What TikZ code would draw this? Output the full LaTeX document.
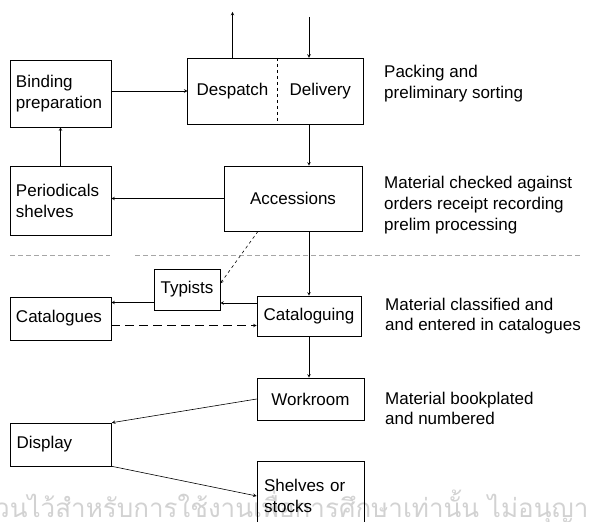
\documentclass[tikz,border=0pt]{standalone}
\usepackage{fontspec}
\setmainfont{Liberation Sans}
\newfontfamily\thaifont[Script=Thai]{Loma}
\begin{document}
\begin{tikzpicture}[x=1pt, y=1pt, font=\fontsize{17}{21}\selectfont]
    % Style definition for the process boxes
    \tikzset{box/.style={rectangle, draw=black, semithick, inner xsep=6pt, inner ysep=0pt},
             leftbox/.style={box, text width=89pt, align=left},
             half/.style={rectangle, inner sep=0pt},
             note/.style={anchor=west, align=left, inner sep=0pt}}
    \tikzstyle{arrow} = [semithick,->,>=stealth]
    \tikzstyle{dasharrow} = [semithick,->,>=stealth,dash pattern=on 9pt off 5pt]

    \useasboundingbox (0,0) rectangle (589,-522);
    \clip (0,0) rectangle (589,-522);

    % Watermark along the bottom edge
    \node (mark) [anchor=base west, inner sep=0pt, text=gray!35,
        font=\thaifont\fontsize{26}{26}\selectfont] at (-5,-517)
        {วนไว้สำหรับการใช้งานเพื่อการศึกษาเท่านั้น ไม่อนุญาต};

    % Left column
    \node (bind) [leftbox, minimum height=67pt] at (60.5,-93.5) {Binding\\preparation};
    \node (per) [leftbox, minimum height=69pt, below of=bind, node distance=107pt] {Periodicals\\shelves};
    \node (cats) [leftbox, minimum height=43pt, below of=per, node distance=118pt] {Catalogues};
    \node (disp) [leftbox, minimum height=43pt, below of=cats, node distance=126pt, xshift=0.5pt] {Display};

    % Main column
    \node (desp) [half, minimum width=89.5pt, minimum height=66pt, right of=bind, node distance=172pt, yshift=2.5pt] {Despatch};
    \node (deliv) [half, minimum width=86pt, minimum height=66pt, right of=desp, node distance=87.75pt] {Delivery};
    \draw [semithick] (desp.north west) rectangle (deliv.south east);
    \draw [semithick, dashed] (desp.north east) -- (desp.south east);
    \node (acc) [box, minimum width=138pt, minimum height=65pt, right of=per, node distance=232.5pt, yshift=2pt] {Accessions};
    \node (typ) [box, minimum width=66pt, minimum height=41pt, right of=cats, node distance=126.5pt, yshift=29pt] {Typists};
    \node (catg) [box, minimum width=104pt, minimum height=40pt, right of=cats, node distance=248.5pt, yshift=2.5pt] {Cataloguing};
    \node (work) [box, minimum width=107pt, minimum height=42pt, right of=disp, node distance=249.5pt, yshift=45.5pt] {Workroom};
    \node (shelves) [box, text width=93pt, inner xsep=7pt, align=left, minimum height=70pt, below of=work, node distance=97pt] {Shelves or\\stocks};

    % Notes on the right
    \node (packnote) [note] at (384,-83.5) {Packing and\\preliminary sorting};
    \node (accnote) [note] at (384,-205) {Material checked against\\orders receipt recording\\prelim processing};
    \node (catnote) [note, font=\fontsize{17}{20}\selectfont] at (385,-316) {Material classified and\\and entered in catalogues};
    \node (worknote) [note, font=\fontsize{17}{20}\selectfont] at (385,-408) {Material bookplated\\and numbered};

    % Broken separator line
    \draw [gray!70, thin, dash pattern=on 5pt off 3pt] (10,-255) -- (110,-255) (135,-255) -- (580,-255);

    % Arrows connecting the boxes
    \coordinate (out) at ([yshift=46pt]desp.north);
    \coordinate (in) at ([yshift=41pt]deliv.north -| catg);
    \draw [arrow] (desp.north) -- (out);
    \draw [arrow] (in) -- (in |- deliv.north);
    \draw [arrow] (bind.east |- desp.west) -- (desp.west);
    \draw [arrow] (per.north) -- (bind.south);
    \draw [arrow] (deliv.south -| catg) -- (acc.north -| catg);
    \draw [arrow] (acc.west) -- (acc.west -| per.east);
    \draw [arrow, dashed] ([xshift=-35pt]acc.south) -- ([yshift=6pt]typ.east);
    \draw [arrow] (acc.south -| catg) -- (catg.north);
    \draw [arrow] ([yshift=13pt]catg.west) -- ([yshift=13pt]catg.west -| typ.east);
    \draw [arrow] ([yshift=-13pt]typ.west) -- ([yshift=-13pt]typ.west -| cats.east);
    \draw [dasharrow] ([yshift=-7pt]cats.east) -- ([yshift=-7pt]cats.east -| catg.west);
    \draw [arrow] (catg.south) -- (catg.south |- work.north);
    \draw [arrow] (work.west) -- (disp.north east);
    \draw [arrow] (disp.south east) -- (shelves.west);

\end{tikzpicture}
\end{document}
